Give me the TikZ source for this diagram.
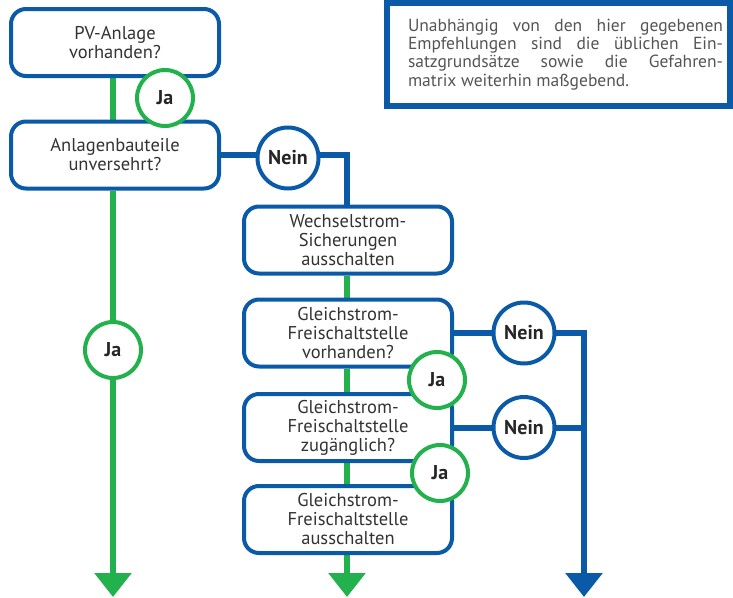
\documentclass[tikz,border=0pt]{standalone}
\usepackage{fontspec}
\setmainfont{PT Sans}
\usepackage{xcolor}
\definecolor{FlowBlue}{HTML}{0B5AA8}
\definecolor{FlowGreen}{HTML}{22B14C}
\definecolor{TextGray}{HTML}{333333}
\definecolor{NoteGray}{HTML}{555555}
\usetikzlibrary{arrows.meta, backgrounds}

\begin{document}
\begin{tikzpicture}[
  x=1pt, y=-1pt,
  every node/.style={font=\fontsize{18.5}{19}\selectfont, text=TextGray},
  frage/.style={
    rectangle, rounded corners=15pt,
    draw=FlowBlue, line width=4pt, fill=white,
    minimum width=208pt, minimum height=67pt,
    align=center, inner sep=0pt},
  janode/.style={
    circle, draw=FlowGreen, line width=4pt, fill=white,
    minimum size=56pt, inner sep=0pt,
    font=\fontsize{20}{22}\selectfont\bfseries, text=black!85},
  neinnode/.style={janode, draw=FlowBlue, minimum size=61pt},
  jaline/.style={draw=FlowGreen, line width=6pt},
  neinline/.style={draw=FlowBlue, line width=6pt},
  endpfeil/.style={-{Triangle[length=24pt,width=36pt]}},
  notiz/.style={
    rectangle, draw=FlowBlue, line width=5.5pt, fill=white,
    minimum width=343pt, minimum height=103pt,
    align=left, inner sep=0pt,
    font=\fontsize{17.5}{18.3}\selectfont, text=NoteGray},
]
\useasboundingbox (0,0) rectangle (733,597);

% Hinweis oben rechts
\node[notiz] (hinweis) at (558.5,54.5)
  {\hspace*{14pt}\makebox[315pt][s]{Unabhängig von den hier gegebenen}\\
   \hspace*{14pt}\makebox[315pt][s]{Empfehlungen sind die üblichen Ein-}\\
   \hspace*{14pt}\makebox[315pt][s]{satzgrundsätze sowie die Gefahren-}\\
   \hspace*{14pt}\makebox[315pt][l]{matrix weiterhin maßgebend.}};

% Fragen und Schritte
\node[frage] (pv)   at (115,42.5)  {PV-Anlage\\vorhanden?};
\node[frage] (bau)  at (115,155)   {Anlagenbauteile\\unversehrt?};
\node[frage] (wech) at (348,240)   {Wechselstrom-\\Sicherungen\\ausschalten};
\node[frage] (gvor) at (348,333)   {Gleichstrom-\\Freischaltstelle\\vorhanden?};
\node[frage] (gzug) at (348,427.5) {Gleichstrom-\\Freischaltstelle\\zugänglich?};
\node[frage] (gaus) at (348,519.5) {Gleichstrom-\\Freischaltstelle\\ausschalten};

% Ausgaenge unten
\coordinate (ausL) at (113,597);
\coordinate (ausM) at (347,597);
\coordinate (ausR) at (584,597);

% Antworten
\node[janode]   (jaA)   at (165,98)  {Ja};
\node[janode]   (jaB)   at (113,350) {Ja};
\node[janode]   (jaC)   at (437,380) {Ja};
\node[janode]   (jaD)   at (440,473) {Ja};
\node[neinnode] (neinA) at (288,158) {Nein};
\node[neinnode] (neinB) at (524,333) {Nein};
\node[neinnode] (neinC) at (524,427.5) {Nein};

\begin{pgfonlayer}{background}
  \draw[jaline] ([xshift=-2pt]pv.south) -- ([xshift=-2pt]bau.north);
  \draw[jaline, endpfeil] ([xshift=-2pt]bau.south) -- (ausL);

  \draw[neinline] (bau.east) -- (bau.east -| ausM) -- ([xshift=-1pt]wech.north);

  \draw[jaline] ([xshift=-1pt]wech.south) -- ([xshift=-1pt]gvor.north);
  \draw[jaline] ([xshift=-1pt]gvor.south) -- ([xshift=-1pt]gzug.north);
  \draw[jaline] ([xshift=-1pt]gzug.south) -- ([xshift=-1pt]gaus.north);
  \draw[jaline, endpfeil] ([xshift=-1pt]gaus.south) -- (ausM);

  \draw[neinline, endpfeil] (gvor.east) -- (gvor.east -| ausR) -- (ausR);
  \draw[neinline] (gzug.east) -- (gzug.east -| ausR);
\end{pgfonlayer}

\end{tikzpicture}
\end{document}
